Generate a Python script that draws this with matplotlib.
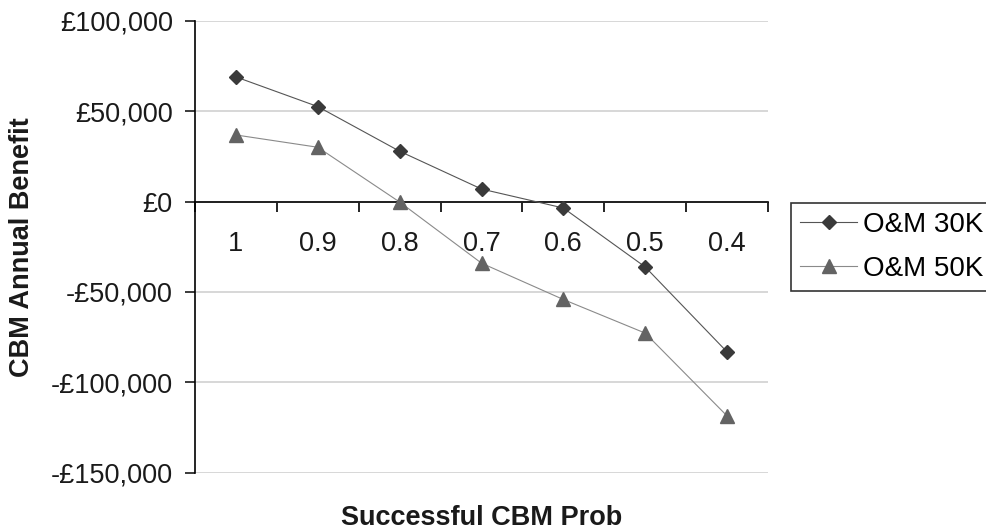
import numpy as np
import matplotlib
matplotlib.use('Agg')
import matplotlib.pyplot as plt
from matplotlib.ticker import FuncFormatter

plt.rcParams['font.family'] = ['Liberation Sans', 'DejaVu Sans']

# chart data
probs = ['1', '0.9', '0.8', '0.7', '0.6', '0.5', '0.4']
om_30k = [68900, 52500, 27800, 6900, -3600, -36200, -83200]
om_50k = [36800, 30000, -300, -34100, -54200, -72800, -118600]
y_ticks = [100000, 50000, 0, -50000, -100000, -150000]


def pounds(v, pos=None):
    v = int(round(v))
    if v < 0:
        return '-\u00a3{:,}'.format(-v)
    return '\u00a3{:,}'.format(v)


fig = plt.figure(figsize=(9.86, 5.32), dpi=100)
ax = fig.add_axes([195 / 986, 1 - 472.7 / 532, (768 - 195) / 986, (472.7 - 20.7) / 532])

x = np.arange(len(probs))
ax.plot(x, om_30k, color='#555555', lw=0.8, marker='D', ms=6.9,
        mfc='#3a3a3a', mec='#3a3a3a', label='O&M 30K', zorder=4)
ax.plot(x, om_50k, color='#8a8a8a', lw=0.8, marker='^', ms=9.5,
        mfc='#636363', mec='#636363', label='O&M 50K', zorder=3)

ax.set_xlim(-0.5, len(probs) - 0.5)
ax.set_ylim(-150000, 100000)
ax.set_yticks(y_ticks)
ax.yaxis.set_major_formatter(FuncFormatter(pounds))
ax.yaxis.grid(True, color='#d4d4d4', lw=1.3)
ax.set_axisbelow(True)

# category axis crosses at zero, ticks between categories
ax.spines['bottom'].set_position(('data', 0))
ax.spines['top'].set_visible(False)
ax.spines['right'].set_visible(False)
ax.spines['left'].set_linewidth(1.2)
ax.spines['bottom'].set_linewidth(1.2)
ax.set_xticks(x)
ax.set_xticklabels(probs)
ax.set_xticks(np.arange(-0.5, len(probs)), minor=True)
ax.tick_params(axis='x', which='major', length=0, pad=21, labelsize=19.5, colors='#1a1a1a')
ax.tick_params(axis='x', which='minor', length=7, width=1.2, direction='out')
ax.tick_params(axis='y', length=7, width=1.2, pad=9, labelsize=19.5, colors='#1a1a1a')

fig.text(0.022, 0.5 * ((1 - 472.7 / 532) + (1 - 20.7 / 532)), 'CBM Annual Benefit',
         rotation=90, ha='center', va='center', fontsize=19.5, fontweight='bold', color='#1a1a1a')
fig.text(482 / 986, 1 - 518 / 532, 'Successful CBM Prob', ha='center', va='center',
         fontsize=19.5, fontweight='bold', color='#1a1a1a')

# legend frame runs off the right edge, as in the original
leg = ax.legend(loc='upper left', bbox_to_anchor=(791 / 986, 1 - 203 / 532),
                bbox_transform=fig.transFigure, fontsize=20, frameon=True, fancybox=False,
                handlelength=2.05, handletextpad=0.2, borderpad=0.33, labelspacing=0.64,
                borderaxespad=0)
leg.get_frame().set_edgecolor('black')
leg.get_frame().set_linewidth(1.2)

fig.savefig('out.png', dpi=100)
